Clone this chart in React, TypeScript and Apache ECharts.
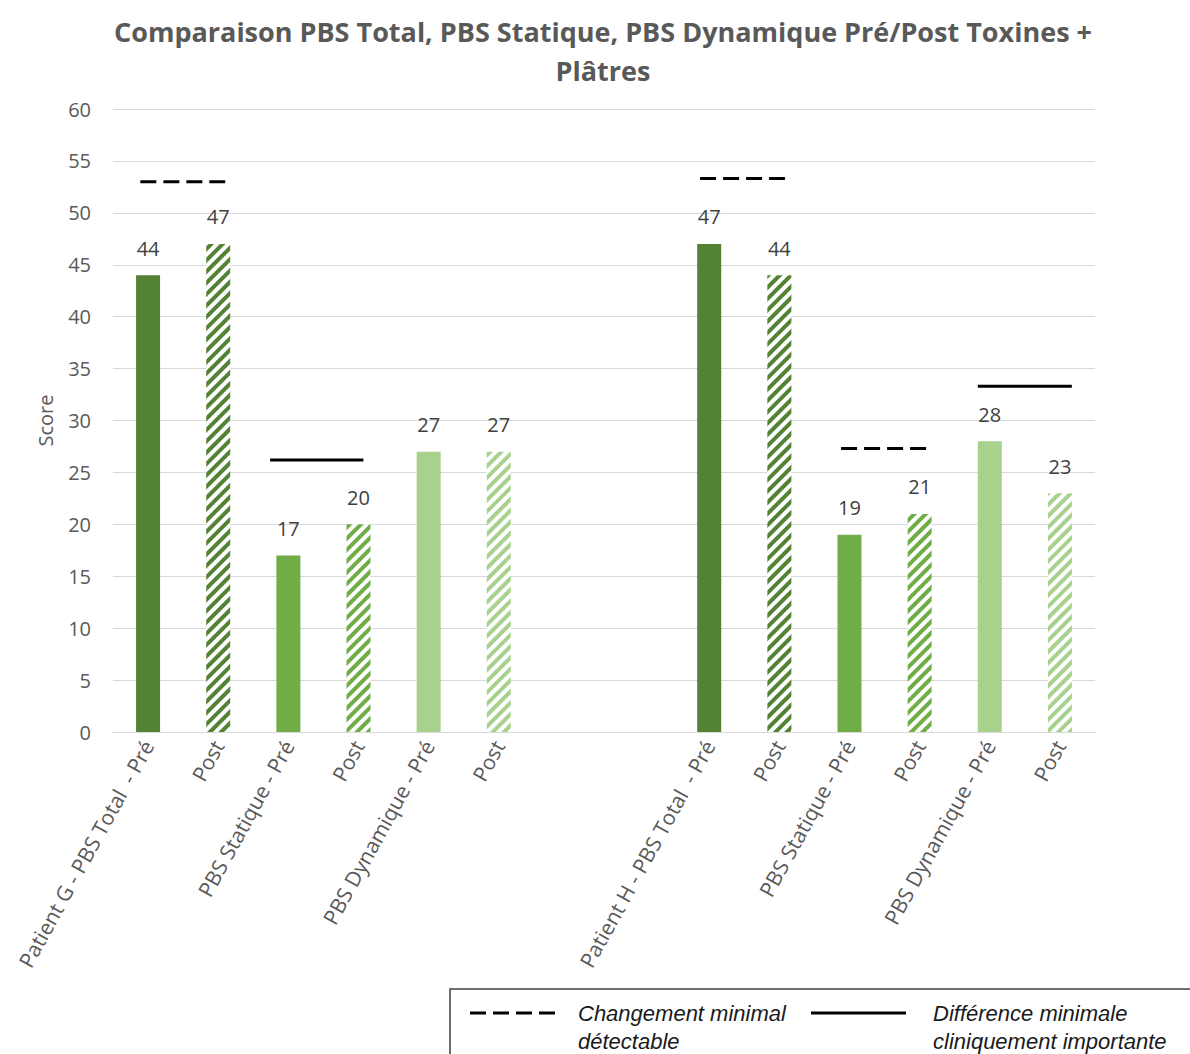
import React, { useEffect, useRef } from "react";
import * as echarts from "echarts";

const titleText = "Comparaison PBS Total, PBS Statique, PBS Dynamique Pré/Post Toxines +\nPlâtres";
const categories = [
  "Patient G - PBS Total  - Pré", "Post", "PBS Statique - Pré", "Post", "PBS Dynamique - Pré", "Post",
  "", "",
  "Patient H - PBS Total  - Pré", "Post", "PBS Statique - Pré", "Post", "PBS Dynamique - Pré", "Post",
];
const scores: (number | null)[] = [44, 47, 17, 20, 27, 27, null, null, 47, 44, 19, 21, 28, 23];
const measures = ["total", "total", "statique", "statique", "dynamique", "dynamique", "", "", "total", "total", "statique", "statique", "dynamique", "dynamique"];
const phases = ["pre", "post", "pre", "post", "pre", "post", "", "", "pre", "post", "pre", "post", "pre", "post"];

const yMin = 0;
const yMax = 60;
const yStep = 5;

// reference lines (in category-index units on a hidden value axis)
const refStarts = [-0.11, 1.74, 7.87, 9.88, 11.83];
const refEnds = [1.10, 3.07, 9.10, 11.11, 13.17];
const refValues = [53, 26.2, 53.3, 27.3, 33.3];
const refKinds = ["mcd", "mcid", "mcd", "mcd", "mcid"];

const legendLabels = ["Changement minimal\ndétectable", "Différence minimale\ncliniquement importante"];

const measureColors: Record<string, string> = {
  total: "#548235",
  statique: "#70AD47",
  dynamique: "#A9D18E",
};

const FONT = "Open Sans";
const DASH = [16, 7];

export default function App() {
  const ref = useRef<HTMLDivElement>(null);
  useEffect(() => {
    if (!ref.current) return;
    const chart = echarts.init(ref.current, undefined, { renderer: "svg" });

    const barData = scores.map((v, i) => {
      if (v == null) return { value: "-", label: { show: false } };
      const c = measureColors[measures[i]];
      if (phases[i] === "post") {
        return {
          value: v,
          itemStyle: {
            color: "#ffffff",
            decal: {
              symbol: "rect",
              symbolSize: 1,
              dashArrayX: [1, 0],
              dashArrayY: [4, 4],
              rotation: -Math.PI / 4,
              color: c,
            },
          },
        };
      }
      return { value: v, itemStyle: { color: c } };
    });

    const lineSeries = refValues.map((val, i) => ({
      type: "line",
      xAxisIndex: 1,
      yAxisIndex: 0,
      symbol: "none",
      silent: true,
      data: [
        [refStarts[i], val],
        [refEnds[i], val],
      ],
      lineStyle: {
        color: "#000000",
        width: 3,
        type: refKinds[i] === "mcd" ? DASH : "solid",
      },
      z: 5,
    }));

    const legendTextStyle = {
      fontFamily: "Liberation Sans",
      fontStyle: "italic",
      fontSize: 22,
      lineHeight: 28,
      fill: "#1a1a1a",
      verticalAlign: "top",
    };

    chart.setOption({
      animation: false,
      backgroundColor: "#ffffff",
      title: {
        text: titleText,
        left: 603,
        top: 12,
        textAlign: "center",
        padding: 0,
        textStyle: {
          fontFamily: FONT,
          fontWeight: "bold",
          fontSize: 27,
          color: "#595959",
          lineHeight: 39,
        },
      },
      grid: { left: 113, right: 95, top: 109, bottom: 322, containLabel: false },
      xAxis: [
        {
          type: "category",
          data: categories,
          boundaryGap: true,
          axisLine: { lineStyle: { color: "#d9d9d9", width: 1 } },
          axisTick: { show: false },
          axisLabel: {
            interval: 0,
            rotate: 61,
            margin: 10,
            fontFamily: FONT,
            fontSize: 21,
            color: "#595959",
          },
        },
        {
          type: "value",
          min: -0.5,
          max: 13.5,
          show: false,
        },
      ],
      yAxis: {
        type: "value",
        min: yMin,
        max: yMax,
        interval: yStep,
        name: "Score",
        nameLocation: "middle",
        nameGap: 58,
        nameTextStyle: { fontFamily: FONT, fontSize: 20, color: "#595959" },
        axisLine: { show: false },
        axisTick: { show: false },
        axisLabel: { fontFamily: FONT, fontSize: 20, color: "#595959", margin: 22 },
        splitLine: { lineStyle: { color: "#d9d9d9", width: 1 } },
      },
      series: [
        {
          type: "bar",
          data: barData,
          barWidth: 24,
          label: {
            show: true,
            position: "top",
            distance: 17,
            fontFamily: FONT,
            fontSize: 20,
            color: "#404040",
          },
          z: 3,
        },
        ...lineSeries,
      ],
      graphic: [
        {
          type: "rect",
          shape: { x: 450, y: 989, width: 780, height: 90 },
          style: { fill: "#ffffff", stroke: "#404040", lineWidth: 1.5 },
          z: 10,
        },
        {
          type: "line",
          shape: { x1: 470, y1: 1013, x2: 555, y2: 1013 },
          style: { stroke: "#000000", lineWidth: 3, lineDash: DASH },
          z: 11,
        },
        {
          type: "text",
          x: 578,
          y: 999,
          style: { text: legendLabels[0], ...legendTextStyle },
          z: 11,
        },
        {
          type: "line",
          shape: { x1: 811, y1: 1013, x2: 906, y2: 1013 },
          style: { stroke: "#000000", lineWidth: 3 },
          z: 11,
        },
        {
          type: "text",
          x: 933,
          y: 999,
          style: { text: legendLabels[1], ...legendTextStyle },
          z: 11,
        },
      ],
    });
    return () => chart.dispose();
  }, []);
  return (
    <div
      ref={ref}
      style={{ position: "fixed", left: 0, top: 0, width: 1190, height: 1054, background: "#fff" }}
    />
  );
}
